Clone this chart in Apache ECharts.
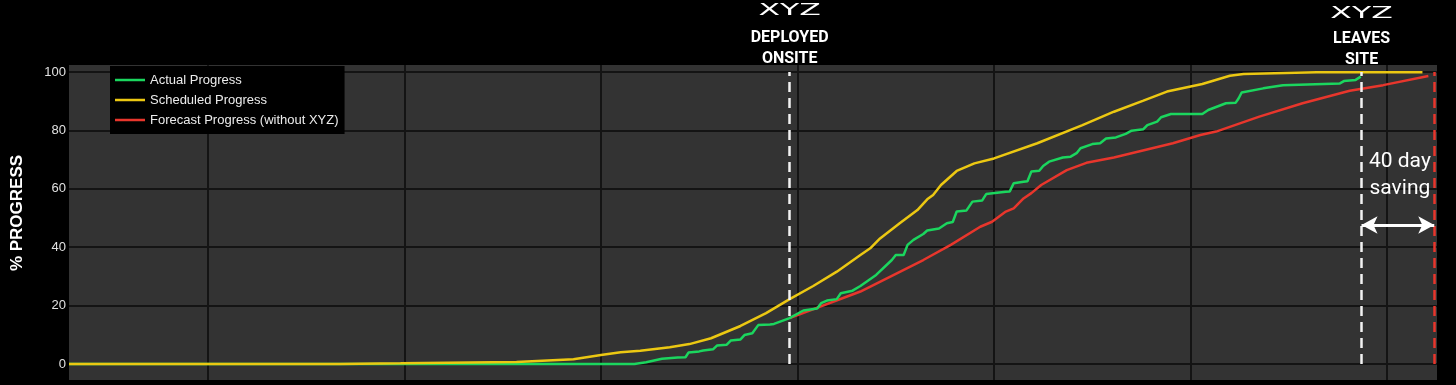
<!DOCTYPE html>
<html><head><meta charset="utf-8">
<script src="https://cdn.jsdelivr.net/npm/echarts@6/dist/echarts.min.js"></script>
<style>html,body{margin:0;padding:0;background:#000;}#c{width:1456px;height:385px;}</style>
</head><body><div id="c"></div>
<script>
// ---- data (x = project day, y = % progress) ----
const seriesNames = ['Actual Progress', 'Scheduled Progress', 'Forecast Progress (without XYZ)'];
const seriesColors = ['#1bd65e', '#ecc812', '#e8362c'];

const scheduledDays = [29.3, 167, 198, 257, 286, 300, 310, 320, 335, 345, 356, 371, 384, 396, 408, 420, 432, 437, 442, 452, 461, 466, 469, 473, 481, 490, 500, 522, 545, 561, 576, 588, 606, 620, 627, 664, 718];
const scheduledPct  = [0, 0, 0.2, 0.7, 1.6, 3.1, 4.0, 4.5, 5.7, 6.8, 8.8, 13.0, 17.4, 22.2, 26.7, 31.6, 37.3, 39.6, 43.0, 48.2, 52.7, 56.4, 57.9, 61.3, 66.1, 68.7, 70.4, 75.6, 81.8, 86.4, 90.2, 93.3, 95.9, 98.7, 99.3, 99.9, 99.9];

const actualDays = [29.3, 317, 323, 331, 339, 343, 344.5, 350, 352, 357, 359, 364, 366, 371, 373, 377, 380, 386, 388, 396, 398, 403, 410, 412, 415, 420, 422, 428, 432, 440, 448, 450, 454, 456, 459, 464, 466, 472, 476, 479, 481, 486, 489, 494, 496, 506, 508, 510, 515, 517, 519, 523, 525, 528, 535, 539, 542, 544, 550, 554, 557, 562, 567, 570, 576, 578, 583, 585, 590, 606, 609, 618, 623, 624.5, 626, 637, 647, 676, 678, 684, 686.6];
const actualPct  = [0, 0, 0.6, 1.8, 2.2, 2.3, 3.9, 4.3, 4.6, 5.0, 6.3, 6.6, 8.0, 8.4, 9.9, 10.5, 13.3, 13.5, 13.7, 15.7, 16.5, 18.3, 19.0, 20.8, 21.7, 22.2, 24.2, 25.1, 26.7, 30.5, 35.6, 37.3, 37.3, 40.8, 42.5, 44.5, 45.7, 46.4, 48.2, 48.6, 52.2, 52.6, 55.6, 56.0, 58.2, 59.0, 59.1, 61.9, 62.4, 62.6, 65.9, 66.2, 67.8, 69.3, 70.7, 71.0, 72.2, 73.9, 75.3, 75.6, 77.2, 77.6, 78.8, 79.9, 80.4, 81.8, 83.0, 84.5, 85.6, 85.6, 87.0, 89.3, 89.5, 91.0, 93.0, 94.4, 95.5, 96.1, 96.9, 97.3, 98.4];

const forecastDays = [396, 432, 464, 478, 493, 499, 506, 510, 515, 519, 524, 537, 547, 561, 591, 605, 613, 635, 657, 681, 698, 721];
const forecastPct  = [15.7, 24.8, 35.6, 40.8, 47.0, 48.7, 52.2, 53.3, 56.7, 58.5, 61.3, 66.4, 68.9, 70.7, 75.6, 78.4, 79.6, 84.7, 89.3, 93.6, 95.5, 98.6];

// ---- axis ticks ----
const xGridDays = [100, 200, 300, 400, 500, 600, 700];
const yTickValues = [0, 20, 40, 60, 80, 100];

// ---- annotations ----
const deployDay = 396;
const leaveDay = 687;
const forecastEndDay = 724;
const savingArrowPct = 47.6;
const savingText = '40 day\nsaving';
const deployText = 'DEPLOYED\nONSITE';
const leaveText = 'LEAVES\nSITE';
const logoText = 'XYZ';
const yAxisTitle = '% PROGRESS';

const zip = (a, b) => a.map((v, i) => [v, b[i]]);

const dashWhite = {color: '#f2f2f2', width: 2.5, type: [10, 6]};
const dashRed = {color: '#e8362c', width: 2.5, type: [10, 6]};

const chart = echarts.init(document.getElementById('c'), null, {renderer: 'canvas'});
const option = {
  backgroundColor: '#000',
  animation: false,
  grid: {left: 69, right: 19, top: 65, bottom: 5, show: true, backgroundColor: '#333333', borderWidth: 0, outerBoundsMode: 'none'},
  legend: {
    show: true, orient: 'vertical', left: 110, top: 66,
    backgroundColor: '#000', borderWidth: 0,
    padding: [7, 6, 7, 5],
    itemWidth: 30, itemHeight: 2.5, itemGap: 6, icon: 'rect',
    textStyle: {color: '#ececec', fontSize: 13, fontFamily: 'Liberation Sans, Arial, sans-serif', lineHeight: 14},
    data: seriesNames
  },
  xAxis: {
    type: 'value', min: 29.3, max: 725.4,
    axisLine: {show: false}, axisLabel: {show: false},
    axisTick: {show: false, customValues: xGridDays},
    splitLine: {show: true, lineStyle: {color: '#141414', width: 2}}
  },
  yAxis: {
    type: 'value', min: -5.5, max: 102.4,
    axisLine: {show: false},
    axisTick: {show: false, customValues: yTickValues},
    axisLabel: {show: true, customValues: yTickValues, color: '#e0e0e0', fontSize: 13, margin: 3, fontFamily: 'Liberation Sans, Arial, sans-serif'},
    splitLine: {show: true, lineStyle: {color: '#141414', width: 2}}
  },
  series: [
    {
      name: seriesNames[0], type: 'line', data: zip(actualDays, actualPct),
      showSymbol: false, symbol: 'none', color: seriesColors[0],
      lineStyle: {width: 2.5, color: seriesColors[0]}, z: 3
    },
    {
      name: seriesNames[1], type: 'line', data: zip(scheduledDays, scheduledPct),
      showSymbol: false, symbol: 'none', color: seriesColors[1],
      lineStyle: {width: 2.5, color: seriesColors[1]}, z: 4
    },
    {
      name: seriesNames[2], type: 'line', data: zip(forecastDays, forecastPct),
      showSymbol: false, symbol: 'none', color: seriesColors[2],
      lineStyle: {width: 2.5, color: seriesColors[2]}, z: 2,
      markLine: {
        silent: true, animation: false, symbol: ['none', 'none'],
        label: {show: false},
        data: [
          [{coord: [deployDay, 0], lineStyle: dashWhite}, {coord: [deployDay, 100]}],
          [{coord: [leaveDay, 0], lineStyle: dashWhite}, {coord: [leaveDay, 100]}],
          [{coord: [forecastEndDay, 0], lineStyle: dashRed}, {coord: [forecastEndDay, 100]}],
          [{coord: [leaveDay, savingArrowPct], symbol: 'arrow', lineStyle: {color: '#ffffff', width: 3, type: 'solid'}},
           {coord: [forecastEndDay, savingArrowPct], symbol: 'arrow'}]
        ],
        symbolSize: [13, 16]
      }
    }
  ]
};
chart.setOption(option);

function addGraphics() {
  const dx = chart.convertToPixel({gridIndex: 0}, [deployDay, 0])[0];
  const lx = chart.convertToPixel({gridIndex: 0}, [leaveDay, 0])[0];
  const fx = chart.convertToPixel({gridIndex: 0}, [forecastEndDay, 0])[0];
  const ay = chart.convertToPixel({gridIndex: 0}, [leaveDay, savingArrowPct])[1];
  const logo = (x, y) => ({
    type: 'text', x: x, y: y, scaleX: 2.1, scaleY: 1,
    style: {text: logoText, fill: '#ffffff', font: 'normal 15px "DejaVu Sans", sans-serif', textAlign: 'center', textVerticalAlign: 'middle'}
  });
  const bold = (x, y, t) => ({
    type: 'text', x: x, y: y,
    style: {text: t, fill: '#ffffff', font: 'bold 16px Roboto, "Liberation Sans", sans-serif', textAlign: 'center', textVerticalAlign: 'middle', lineHeight: 21}
  });
  chart.setOption({
    graphic: [
      logo(dx, 11),
      bold(dx, 48.5, deployText),
      logo(lx, 14),
      bold(lx, 49, leaveText),
      {
        type: 'text', x: (lx + fx) / 2 + 2, y: ay - 50,
        style: {text: savingText, fill: '#ffffff', font: '21px Roboto, "Open Sans", sans-serif', textAlign: 'center', textVerticalAlign: 'middle', lineHeight: 27}
      },
      {
        type: 'text', x: 17, y: 213, rotation: Math.PI / 2,
        style: {text: yAxisTitle, fill: '#ffffff', font: 'bold 17px "Liberation Sans", Arial, sans-serif', textAlign: 'center', textVerticalAlign: 'middle'}
      }
    ]
  });
}
addGraphics();
</script>
</body></html>
